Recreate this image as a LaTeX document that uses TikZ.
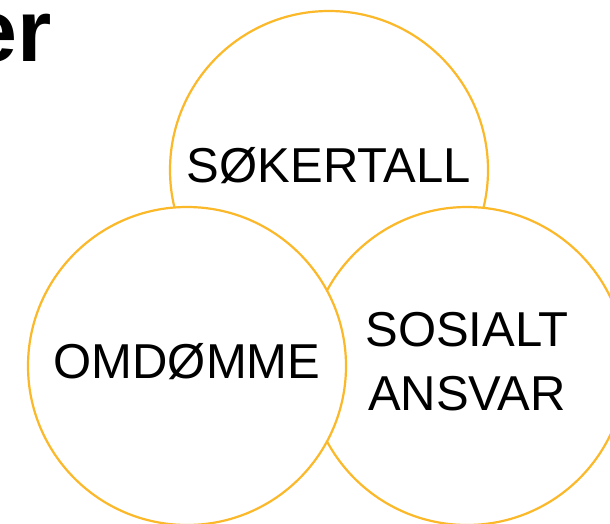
\documentclass[tikz,border=0pt]{standalone}
\usepackage{fontspec}
\setmainfont{Liberation Sans}
\usetikzlibrary{positioning}

\definecolor{ringgold}{RGB}{251,184,41}

\begin{document}
\begin{tikzpicture}[x=1pt,y=-1pt,
                    %on grid so the circles sit centre to centre
                    on grid,
                    node distance=280pt,
                    topic node/.style={circle,draw=ringgold,line width=2.2pt,
                                       fill=white,minimum size=318pt,inner sep=0pt,
                                       text depth=10pt,
                                       align=center,font=\fontsize{49}{64}\selectfont}]

  \useasboundingbox (0,0) rectangle (610,524);

  \node[anchor=base east,inner sep=0pt,font=\fontsize{88}{90}\selectfont\bfseries]
    (title) at (52,62) {er};

  \node[topic node] (T) at (329,170) {SØKERTALL};
  \node[topic node] (S) [below right=196pt and 138pt of T] {SOSIALT\\ANSVAR};
  \node[topic node] (O) [left of=S] {OMDØMME};

\end{tikzpicture}
\end{document}
